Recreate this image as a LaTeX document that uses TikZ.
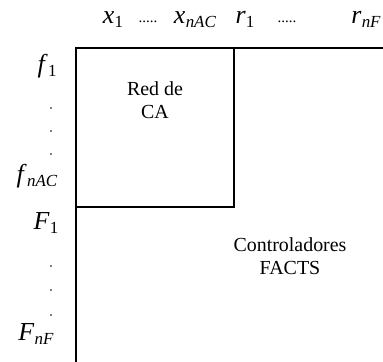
\documentclass[tikz,border=0pt]{standalone}
\usepackage{fontspec}
\setmainfont{Liberation Serif}
\usepackage{tikz}
\usetikzlibrary{positioning}

\newcommand{\symb}[2]{\textit{#1}\kern0.3pt\raisebox{-0.4ex}{\fontsize{17}{17}\selectfont #2}}

\begin{document}
\begin{tikzpicture}[
        x=1bp, y=-1bp,
        edge/.style={
            line width=1.6bp
        },
        lbl/.style={
            inner sep=0pt,
            anchor=base,
            font=\fontsize{26}{26}\selectfont
        },
        dots/.style={
            inner sep=0pt,
            anchor=base,
            font=\fontsize{15}{15}\selectfont
        },
        txt/.style={
            align=center,
            inner sep=0pt,
            font=\fontsize{20}{23}\selectfont
        }
    ]

    \useasboundingbox (0,0) rectangle (383,362);

    % frame of the matrix
    \coordinate (tl) at (76,48);
    \coordinate (tr) at (383,48);
    \coordinate (bl) at (76,362);
    \coordinate (ac) at (234,207);

    \draw[edge] (tr) -- (tl) -- (bl);
    \draw[edge] (tl -| ac) -- (ac) -- (tl |- ac);

    % column labels
    \node[lbl] (x1) at (113,23) {\symb{x}{1}};
    \node[dots] (xdots) at (148,22) {.....};
    \node[lbl] (xnac) at (195,23) {\symb{x}{\textit{nAC}}};
    \node[lbl] (r1) at (245,23) {\symb{r}{1}};
    \node[dots] (rdots) at (287,22) {.....};
    \node[lbl] (rnf) at (366,23) {\symb{r}{\textit{nF}}};

    % row labels
    \node[lbl] (f1) at (47,72) {\symb{f}{1}};
    \node[lbl] (fnac) at (37,182) {\symb{f}{\textit{nAC}}};
    \node[lbl] (F1) at (46,229) {\symb{F}{1}};
    \node[lbl] (Fnf) at (36,340) {\symb{F}{\textit{nF}}};
    \foreach \y in {108,131,154,266,290,315}
        \fill (51,\y) circle (0.9);

    % blocks
    \node[txt] (acnet) at (155,100) {Red de\\CA};
    \node[txt] (facts) at (290,256) {Controladores\\FACTS};

\end{tikzpicture}
\end{document}
